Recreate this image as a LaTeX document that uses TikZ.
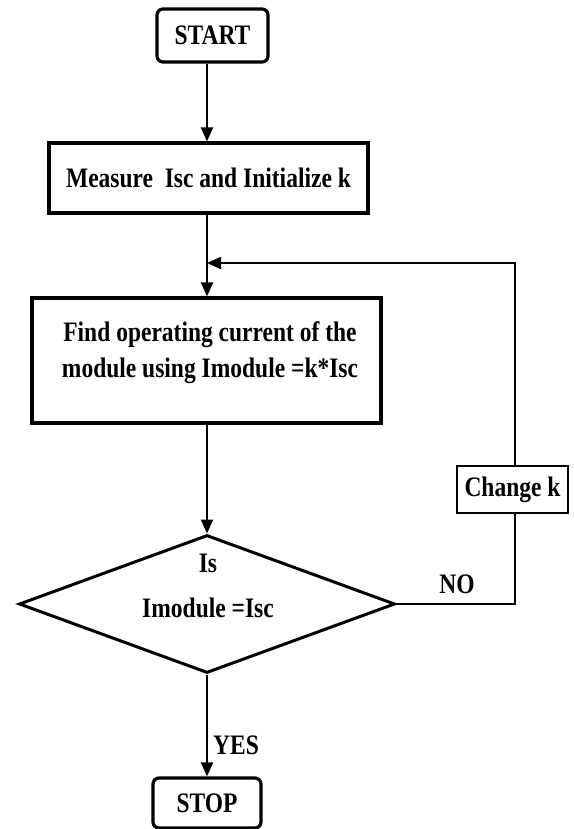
\documentclass[tikz,border=0pt]{standalone}
\usepackage{fontspec}
\setmainfont{Liberation Serif}
\usetikzlibrary{shapes.geometric,arrows.meta}
\newcommand{\tx}[1]{\scalebox{1}[1.2]{#1}}
\begin{document}
\begin{tikzpicture}[x=1pt,y=-1pt,
  every node/.style={font=\fontsize{23.5}{36}\selectfont\bfseries},
  boxs/.style={draw, line width=3.2pt, inner sep=0pt},
  rbox/.style={boxs, rounded corners=6pt},
  conn/.style={line width=2.2pt, -{Triangle[length=14pt,width=12pt]}},
  plain/.style={line width=2.2pt},
  txt/.style={inner sep=0pt, align=center}]
\fill[white] (0,0) rectangle (573,829);
\useasboundingbox (0,0) rectangle (573,829);

\node[rbox, minimum width=111pt, minimum height=53pt] (start) at (212.5,35.5) {\tx{START}};
\node[boxs, minimum width=319pt, minimum height=70pt] (measure) at (208.5,178) {\tx{Measure\ \ Isc and Initialize k}};
\node[boxs, minimum width=349pt, minimum height=125pt] (find) at (206.5,360.5) {};
\node[txt] (findtxt) at (210,353) {\tx{Find operating current of the}\\\tx{module using Imodule =k*Isc}};
\node[draw, diamond, line width=3pt, minimum width=376pt, minimum height=138pt, inner sep=0pt] (dec) at (207,604) {};
\node[txt, font=\fontsize{23.5}{45}\selectfont\bfseries] (dectxt) at (208,586) {\tx{Is}\\\tx{Imodule =Isc}};
\node[boxs, line width=2.6pt, minimum width=111pt, minimum height=47pt] (chg) at (512.5,489.5) {\tx{Change k}};
\node[txt] (no) at (457,584) {\tx{NO}};
\node[txt] (yes) at (236,745) {\tx{YES}};
\node[rbox, minimum width=108pt, minimum height=50pt] (stop) at (207,803) {\tx{STOP}};

\coordinate (j) at (207,263);
\coordinate (r) at (515,263);

\draw[conn] (start.south -| j) -- (measure.north -| j);
\draw[conn] (measure.south -| j) -- (find.north -| j);
\draw[conn] (find.south -| j) -- (dec.north);
\draw[conn] (dec.south) -- (stop.north -| dec.south);
\draw[plain] (dec.east) -- (dec.east -| r) -- (chg.south -| r);
\draw[conn] (chg.north -| r) -- (r) -- (j);
\end{tikzpicture}
\end{document}
